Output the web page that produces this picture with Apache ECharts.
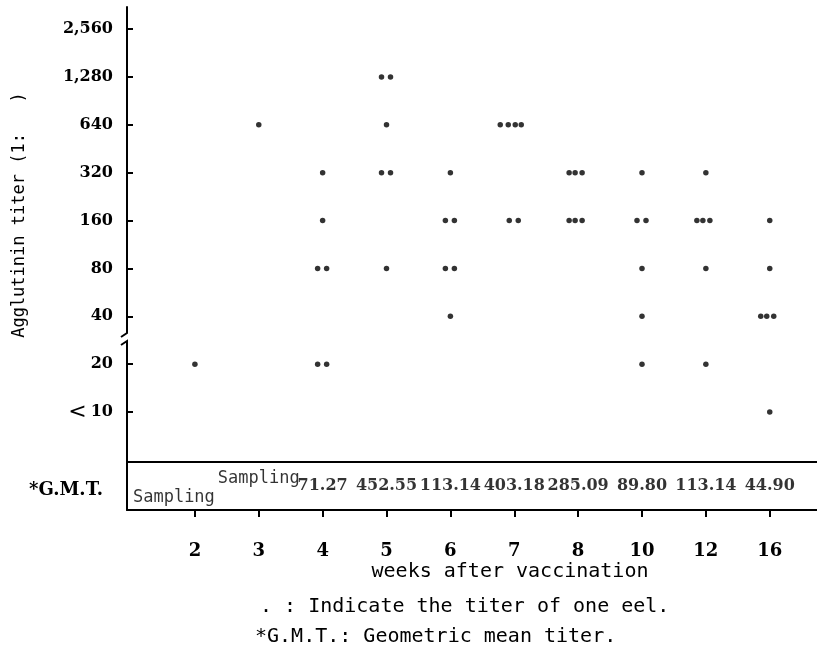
<!DOCTYPE html>
<html><head><meta charset="utf-8">
<script src="https://cdn.jsdelivr.net/npm/echarts@6/dist/echarts.min.js"></script>
<style>html,body{margin:0;padding:0;background:#fff}#c{width:817px;height:655px}</style>
</head><body><div id="c"></div>
<script>
// ---- data ----
const weeks = ['2', '3', '4', '5', '6', '7', '8', '10', '12', '16'];
const titerLevels = [10, 20, 40, 80, 160, 320, 640, 1280, 2560];
const titerLabels = ['<10', '20', '40', '80', '160', '320', '640', '1,280', '2,560'];
// titer of each eel (10 = "<10")
const titersWeek2 = [20];
const titersWeek3 = [640];
const titersWeek4 = [320, 160, 80, 80, 20, 20];
const titersWeek5 = [1280, 1280, 640, 320, 320, 80];
const titersWeek6 = [320, 160, 160, 80, 80, 40];
const titersWeek7 = [640, 640, 640, 640, 160, 160];
const titersWeek8 = [320, 320, 320, 160, 160, 160];
const titersWeek10 = [320, 160, 160, 80, 40, 20];
const titersWeek12 = [320, 160, 160, 160, 80, 20];
const titersWeek16 = [160, 80, 40, 40, 40, 10];
const gmtValues = ['Sampling', 'Sampling', '71.27', '452.55', '113.14', '403.18', '285.09', '89.80', '113.14', '44.90'];

const titersByWeek = [titersWeek2, titersWeek3, titersWeek4, titersWeek5, titersWeek6,
  titersWeek7, titersWeek8, titersWeek10, titersWeek12, titersWeek16];

// ---- build ----
const spread = {1: [0], 2: [-5, 4], 3: [-9, -3, 4], 4: [-14, -6, 1, 7]};
const dots = [];
titersByWeek.forEach((list, wi) => {
  const counts = {};
  list.forEach(t => { counts[t] = (counts[t] || 0) + 1; });
  const seen = {};
  list.forEach(t => {
    const k = seen[t] || 0; seen[t] = k + 1;
    const offs = spread[counts[t]] || [0];
    dots.push({value: [wi + 1, titerLevels.indexOf(t)], symbolOffset: [offs[k], 0]});
  });
});

const gmtData = gmtValues.map((g, i) => {
  const item = {value: [i + 1, 0.5]};
  if (g === 'Sampling') {
    item.label = {fontFamily: 'DejaVu Sans Mono', fontWeight: 'normal', fontSize: 17,
      offset: i === 0 ? [-21, 12] : [0, -7]};
  }
  return item;
});

const idx = titerLevels.map((_, i) => i);
const weekIdx = weeks.map((_, i) => i + 1);
const black = '#000';
const serif = 'DejaVu Serif';

const chart = echarts.init(document.getElementById('c'));
chart.setOption({
  animation: false,
  backgroundColor: '#fff',
  grid: [
    {left: 127, top: 7, width: 690, height: 455},
    {left: 127, top: 462, width: 690, height: 48}
  ],
  xAxis: [
    {gridIndex: 0, type: 'value', min: -0.063, max: 10.74, show: false},
    {gridIndex: 1, type: 'value', min: -0.063, max: 10.74,
      axisLine: {show: true, lineStyle: {color: black, width: 2}},
      axisTick: {show: true, length: 7, customValues: weekIdx, lineStyle: {color: black, width: 2}},
      axisLabel: {customValues: weekIdx, formatter: v => weeks[Math.round(v) - 1] || '',
        color: black, fontFamily: serif, fontWeight: 'bold', fontSize: 18, margin: 32},
      splitLine: {show: true, lineStyle: {opacity: 0}}}
  ],
  yAxis: [
    {gridIndex: 0, type: 'value', min: -1.044, max: 8.46, position: 'left',
      axisLine: {show: true, onZero: false, lineStyle: {color: black, width: 2}},
      axisTick: {show: true, inside: true, length: 6, customValues: idx, lineStyle: {color: black, width: 2}},
      axisLabel: {customValues: idx,
        formatter: v => {
          const s = titerLabels[Math.round(v)] || '';
          return s.charAt(0) === '<' ? '{lt|<}' + s.slice(1) : s;
        },
        rich: {lt: {fontFamily: 'DejaVu Sans', fontWeight: 'normal', fontSize: 22, color: black, padding: [0, 4, 0, 0]}},
        color: black, fontFamily: serif, fontWeight: 'bold', fontSize: 16, margin: 14},
      splitLine: {show: true, lineStyle: {opacity: 0}}},
    {gridIndex: 1, type: 'value', min: 0, max: 1, interval: 1,
      axisLine: {show: true, onZero: false, lineStyle: {color: black, width: 2}},
      axisTick: {show: false}, axisLabel: {show: false},
      splitLine: {show: true, lineStyle: {color: black, width: 2}}}
  ],
  series: [
    {type: 'scatter', xAxisIndex: 0, yAxisIndex: 0, data: dots, symbol: 'circle', symbolSize: 5.5,
      itemStyle: {color: black}, silent: true},
    {type: 'scatter', xAxisIndex: 1, yAxisIndex: 1, data: gmtData, symbolSize: 0, silent: true,
      label: {show: true, position: 'inside', formatter: p => gmtValues[p.dataIndex],
        color: black, fontFamily: serif, fontWeight: 'bold', fontSize: 16}}
  ],
  graphic: [
    {type: 'rect', shape: {x: 119, y: 333, width: 16, height: 8}, style: {fill: '#fff'}, z: 100},
    {type: 'polyline', shape: {points: [[127, 331], [127, 333], [121, 337]]}, style: {stroke: black, lineWidth: 2, fill: null}, z: 101},
    {type: 'polyline', shape: {points: [[121, 345], [127, 341], [127, 343]]}, style: {stroke: black, lineWidth: 2, fill: null}, z: 101},
    {type: 'text', x: 20, y: 215, rotation: Math.PI / 2,
      style: {text: 'Agglutinin titer (1:   )', font: '17px "DejaVu Sans Mono"', fill: black, textAlign: 'center', textVerticalAlign: 'middle'}},
    {type: 'text', x: 66, y: 490,
      style: {text: '*G.M.T.', font: 'bold 18px "DejaVu Serif"', fill: black, textAlign: 'center', textVerticalAlign: 'middle'}},
    {type: 'text', x: 510, y: 572,
      style: {text: 'weeks after vaccination', font: '20px "DejaVu Sans Mono"', fill: black, textAlign: 'center', textVerticalAlign: 'middle'}},
    {type: 'text', x: 260, y: 607,
      style: {text: '. : Indicate the titer of one eel.', font: '20px "DejaVu Sans Mono"', fill: black, textAlign: 'left', textVerticalAlign: 'middle'}},
    {type: 'text', x: 255, y: 637,
      style: {text: '*G.M.T.: Geometric mean titer.', font: '20px "DejaVu Sans Mono"', fill: black, textAlign: 'left', textVerticalAlign: 'middle'}}
  ]
});
</script>
</body></html>
